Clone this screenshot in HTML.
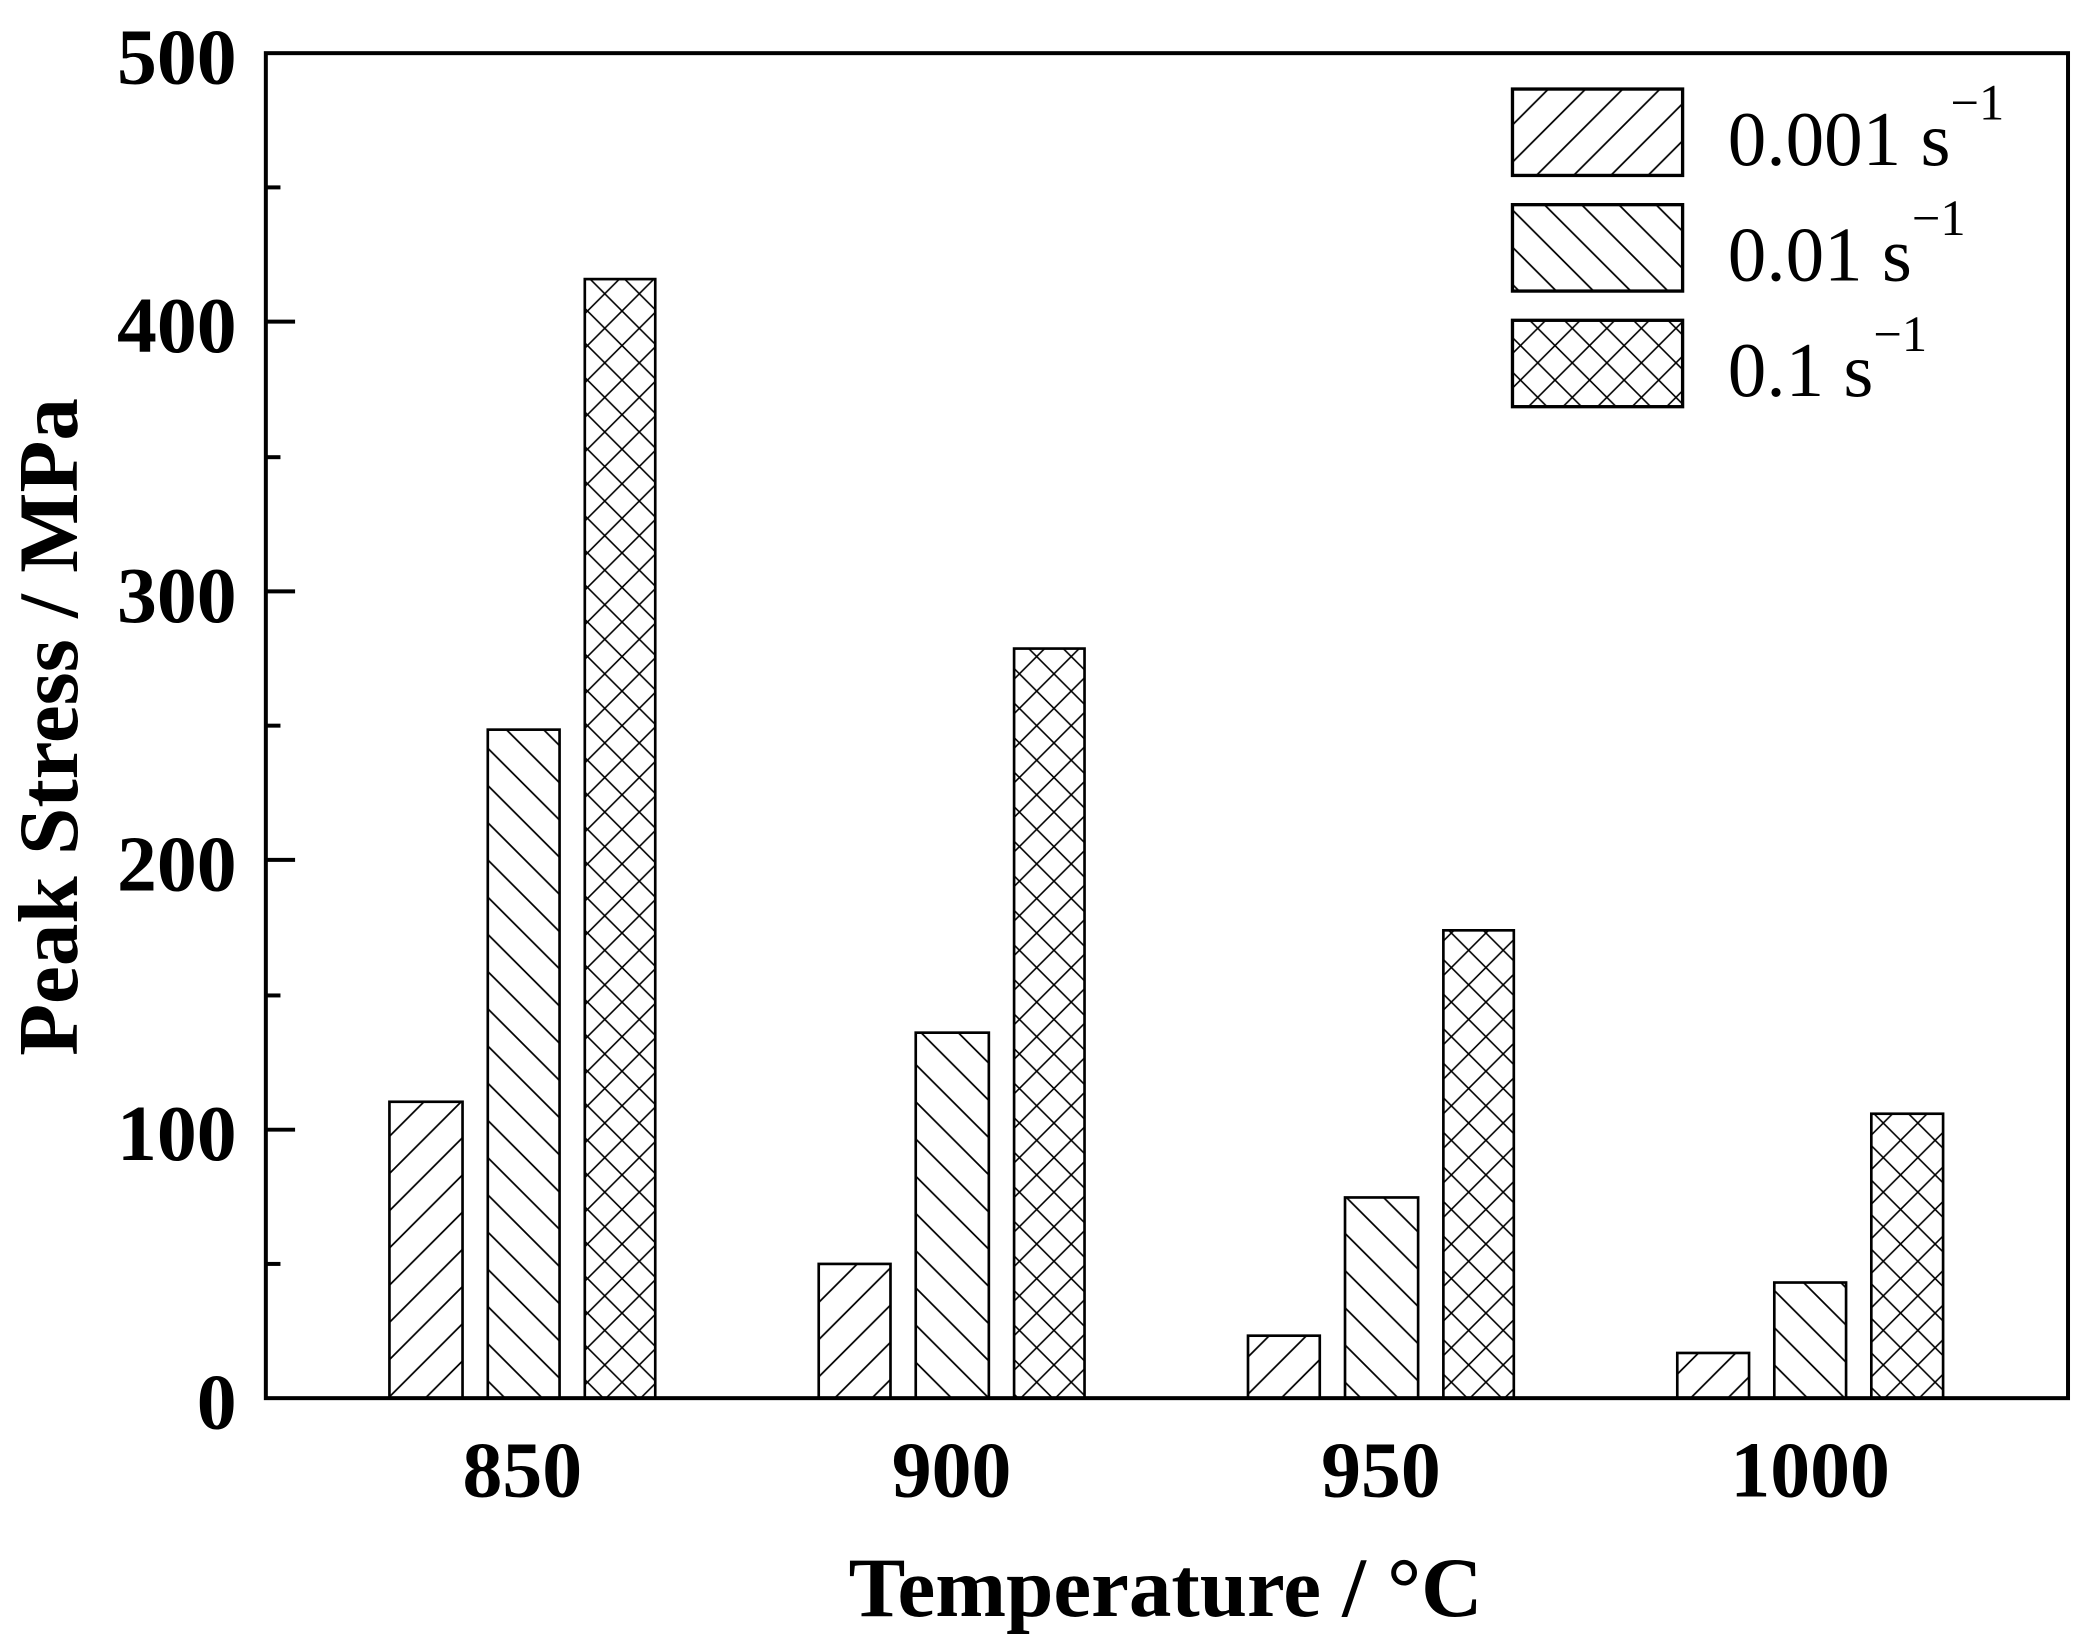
<!DOCTYPE html>
<html><head><meta charset="utf-8"><style>html,body{margin:0;padding:0;background:#fff}svg{display:block}</style></head>
<body>
<svg width="2084" height="1652" viewBox="0 0 1568 1243" xmlns="http://www.w3.org/2000/svg">
<defs>
<pattern id="fw" patternUnits="userSpaceOnUse" width="28" height="28">
<path d="M-7,7 L7,-7 M0,28 L28,0 M21,35 L35,21" stroke="#000" stroke-width="1.3"/></pattern>
<pattern id="bw" patternUnits="userSpaceOnUse" width="28" height="28">
<path d="M-7,21 L7,35 M0,0 L28,28 M21,-7 L35,7" stroke="#000" stroke-width="1.3"/></pattern>
<pattern id="xw" patternUnits="userSpaceOnUse" width="26" height="26">
<path d="M-7,7 L7,-7 M0,26 L26,0 M19,33 L33,19 M-7,19 L7,33 M0,0 L26,26 M19,-7 L33,7" stroke="#000" stroke-width="1.2"/></pattern>
</defs>
<rect width="1568" height="1243" fill="#fff"/>
<g stroke="#000" stroke-width="2">
<rect x="293" y="829" width="55" height="223" fill="url(#fw)"/>
<rect x="367" y="549" width="54" height="503" fill="url(#bw)"/>
<rect x="440" y="210" width="53" height="842" fill="url(#xw)"/>
<rect x="616" y="951" width="54" height="101" fill="url(#fw)"/>
<rect x="689" y="777" width="55" height="275" fill="url(#bw)"/>
<rect x="763" y="488" width="53" height="564" fill="url(#xw)"/>
<rect x="939" y="1005" width="54" height="47" fill="url(#fw)"/>
<rect x="1012" y="901" width="55" height="151" fill="url(#bw)"/>
<rect x="1086" y="700" width="53" height="352" fill="url(#xw)"/>
<rect x="1262" y="1018" width="54" height="34" fill="url(#fw)"/>
<rect x="1335" y="965" width="54" height="87" fill="url(#bw)"/>
<rect x="1408" y="838" width="54" height="214" fill="url(#xw)"/>
</g>
<rect x="200" y="40" width="1356" height="1012" fill="none" stroke="#000" stroke-width="3"/>
<g stroke="#000" stroke-width="3">
<line x1="200" y1="242" x2="222" y2="242"/><line x1="200" y1="445" x2="222" y2="445"/>
<line x1="200" y1="647" x2="222" y2="647"/><line x1="200" y1="850" x2="222" y2="850"/>
<line x1="200" y1="141" x2="211" y2="141"/><line x1="200" y1="344" x2="211" y2="344"/>
<line x1="200" y1="546" x2="211" y2="546"/><line x1="200" y1="749" x2="211" y2="749"/>
<line x1="200" y1="951" x2="211" y2="951"/>
</g>
<g font-family="Liberation Serif, serif" font-weight="bold" font-size="60" text-anchor="end">
<text x="178" y="63">500</text><text x="178" y="265">400</text><text x="178" y="468">300</text>
<text x="178" y="670">200</text><text x="178" y="873">100</text><text x="178" y="1075">0</text>
</g>
<g font-family="Liberation Serif, serif" font-weight="bold" font-size="60" text-anchor="middle">
<text x="393" y="1126">850</text><text x="716" y="1126">900</text><text x="1039" y="1126">950</text><text x="1362" y="1126">1000</text>
<text x="877" y="1216" font-size="64">Temperature / °C</text>
<text transform="translate(58,547) rotate(-90)" font-size="64" textLength="495" lengthAdjust="spacingAndGlyphs">Peak Stress / MPa</text>
</g>
<g stroke="#000" stroke-width="2.5">
<rect x="1138" y="67" width="128" height="65" fill="url(#fw)"/>
<rect x="1138" y="154" width="128" height="65" fill="url(#bw)"/>
<rect x="1138" y="241" width="128" height="65" fill="url(#xw)"/>
</g>
<g font-family="Liberation Serif, serif" font-size="58">
<text x="1300" y="124">0.001 s<tspan font-size="38" dy="-34">−1</tspan></text>
<text x="1300" y="211">0.01 s<tspan font-size="38" dy="-34">−1</tspan></text>
<text x="1300" y="298">0.1 s<tspan font-size="38" dy="-34">−1</tspan></text>
</g>
</svg>
</body></html>
